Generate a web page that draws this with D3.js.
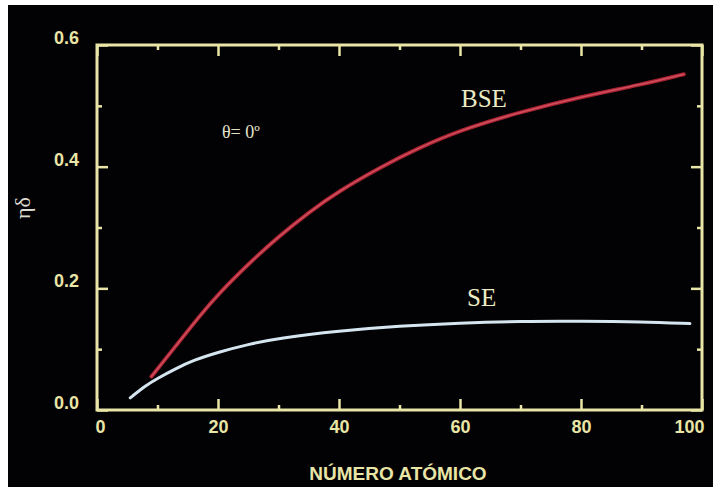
<!DOCTYPE html>
<html>
<head>
<meta charset="utf-8">
<script src="https://cdn.jsdelivr.net/npm/d3@7"></script>
<style>
  body { margin: 0; background: #fff; }
  svg { display: block; }
</style>
</head>
<body>
<div id="graphic"></div>
<script>
// atomic number Z vs coefficient
var bseZ   = [9, 13, 17, 20, 25, 30, 35, 40, 47, 53, 60, 70, 80, 90, 97];
var bseEta = [0.055, 0.105, 0.155, 0.19, 0.24, 0.285, 0.325, 0.36, 0.4, 0.43, 0.46, 0.49, 0.515, 0.535, 0.552];
var seZ    = [5.5, 8, 10, 13, 16, 20, 25, 30, 40, 50, 60, 70, 80, 90, 98];
var seEta  = [0.02, 0.04, 0.052, 0.068, 0.082, 0.095, 0.108, 0.118, 0.13, 0.138, 0.143, 0.146, 0.146, 0.145, 0.142];

var xMajor = [0, 20, 40, 60, 80, 100];
var xMinor = [10, 30, 50, 70, 90];
var yMajor = [0, 0.2, 0.4, 0.6];
var yMinor = [0.1, 0.3, 0.5];

var W = 715, H = 493;
var margin = {top: 45, right: 13, bottom: 83, left: 97},
    width = W - margin.left - margin.right,
    height = H - margin.top - margin.bottom;

var yellow = "#e9e5a6";
var sans = "'Liberation Sans', Arial, sans-serif";
var serif = "'Liberation Serif', 'Times New Roman', serif";

var svg = d3.select("#graphic").append("svg")
  .attr("width", W)
  .attr("height", H);

// black panel inside the white border
svg.append("rect")
  .attr("x", 8).attr("y", 5)
  .attr("width", 705).attr("height", 482)
  .attr("fill", "#020204");

var g = svg.append("g")
  .attr("transform", "translate(" + margin.left + "," + margin.top + ")");

var x = d3.scaleLinear().domain([0, 100]).range([0, width]);
var y = d3.scaleLinear().domain([0, 0.6]).range([height, 0]);

function styleAxis(sel) {
  sel.select(".domain").remove();
  sel.selectAll(".tick line").attr("stroke", yellow).attr("stroke-width", 2.5);
  sel.selectAll(".tick text")
    .attr("fill", yellow)
    .style("font-family", sans)
    .style("font-weight", "bold")
    .style("font-size", "18px");
}

// bottom axis
g.append("g")
  .attr("transform", "translate(0," + height + ")")
  .call(d3.axisBottom(x).tickValues(xMajor).tickSize(-11).tickPadding(19).tickFormat(d3.format("d")))
  .call(styleAxis)
  .call(function(s) {
    s.selectAll(".tick text").attr("dy", "0.2em");
    s.selectAll(".tick text").filter(function(d) { return d === 100; }).attr("dx", "-13");
    s.selectAll(".tick text").filter(function(d) { return d === 0; }).attr("dx", "3");
  });
g.append("g")
  .attr("transform", "translate(0," + height + ")")
  .call(d3.axisBottom(x).tickValues(xMinor).tickSize(-5).tickFormat(""))
  .call(styleAxis);

// top axis
g.append("g")
  .call(d3.axisTop(x).tickValues(xMajor).tickSize(-11).tickFormat(""))
  .call(styleAxis);
g.append("g")
  .call(d3.axisTop(x).tickValues(xMinor).tickSize(-5).tickFormat(""))
  .call(styleAxis);

// left axis
g.append("g")
  .call(d3.axisLeft(y).tickValues(yMajor).tickSize(-11).tickPadding(18).tickFormat(d3.format(".1f")))
  .call(styleAxis)
  .call(function(s) { s.selectAll(".tick text").attr("dy", "-0.08em"); });
g.append("g")
  .call(d3.axisLeft(y).tickValues(yMinor).tickSize(-5).tickFormat(""))
  .call(styleAxis);

// right axis
g.append("g")
  .attr("transform", "translate(" + width + ",0)")
  .call(d3.axisRight(y).tickValues(yMajor).tickSize(-11).tickFormat(""))
  .call(styleAxis);
g.append("g")
  .attr("transform", "translate(" + width + ",0)")
  .call(d3.axisRight(y).tickValues(yMinor).tickSize(-5).tickFormat(""))
  .call(styleAxis);

// frame
g.append("rect")
  .attr("width", width).attr("height", height)
  .attr("fill", "none")
  .attr("stroke", yellow)
  .attr("stroke-width", 3);

var line = d3.line()
  .x(function(d) { return x(d[0]); })
  .y(function(d) { return y(d[1]); })
  .curve(d3.curveBasis);

var bse = bseZ.map(function(z, i) { return [z, bseEta[i]]; });
var se = seZ.map(function(z, i) { return [z, seEta[i]]; });

g.append("path").datum(bse)
  .attr("d", line).attr("fill", "none")
  .attr("stroke", "#a82232").attr("stroke-width", 4).attr("stroke-linecap", "round");
g.append("path").datum(bse)
  .attr("d", line).attr("fill", "none")
  .attr("stroke", "#d0505e").attr("stroke-width", 1.5).attr("stroke-linecap", "round");

g.append("path").datum(se)
  .attr("d", line).attr("fill", "none")
  .attr("stroke", "#d6e6f0").attr("stroke-width", 3).attr("stroke-linecap", "round");

// labels
svg.append("text")
  .attr("x", 461).attr("y", 107)
  .attr("fill", "#ecebc4")
  .style("font-family", serif).style("font-size", "25px")
  .text("BSE");
svg.append("text")
  .attr("x", 467).attr("y", 306)
  .attr("fill", "#ecebc4")
  .style("font-family", serif).style("font-size", "25px")
  .text("SE");
svg.append("text")
  .attr("x", 222).attr("y", 138)
  .attr("fill", "#e4e2cc")
  .style("font-family", serif).style("font-size", "18px")
  .text("θ= 0º");

svg.append("text")
  .attr("x", 398).attr("y", 480)
  .attr("text-anchor", "middle")
  .attr("fill", yellow)
  .style("font-family", sans)
  .style("font-weight", "bold").style("font-size", "19px")
  .text("NÚMERO ATÓMICO");

svg.append("text")
  .attr("transform", "translate(30,208) rotate(-90)")
  .attr("text-anchor", "middle")
  .attr("fill", "#dddad0")
  .style("font-family", serif).style("font-size", "22px")
  .text("ηδ");
</script>
</body>
</html>
